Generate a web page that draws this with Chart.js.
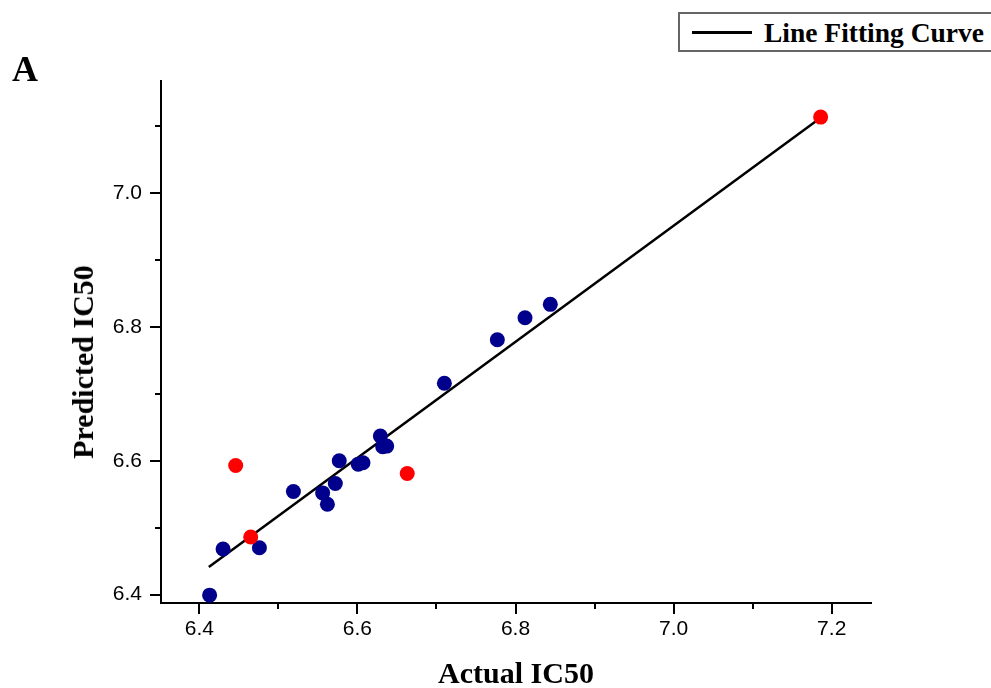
<!DOCTYPE html>
<html>
<head>
<meta charset="utf-8">
<script src="https://cdn.jsdelivr.net/npm/chart.js@4/dist/chart.umd.min.js"></script>
<style>
  body { margin: 0; background: #fff; }
  #wrap { position: relative; width: 991px; height: 688px; overflow: hidden; }
  .txt { position: absolute; font-family: "Liberation Serif", "Times New Roman", serif; font-weight: bold; color: #000; white-space: nowrap; }
  #panel { left: 12px; top: 51px; font-size: 36px; line-height: 36px; }
  #ytitle { left: 83px; top: 362px; font-size: 30px; line-height: 30px; transform: translate(-50%, -50%) rotate(-90deg); }
  #legend { position: absolute; left: 678px; top: 12px; width: 330px; height: 36px; border: 2px solid #666; background: #fff; }
  #legend .sample { position: absolute; left: 12px; top: 17px; width: 60px; height: 3px; background: #000; }
  #legend .txt { left: 84px; top: 5px; font-size: 27.5px; line-height: 27.5px; }
</style>
</head>
<body>
<div id="wrap">
  <canvas id="grafico"></canvas>
  <div class="txt" id="panel">A</div>
  <div class="txt" id="ytitle">Predicted IC50</div>
  <div id="legend"><div class="sample"></div><div class="txt">Line Fitting Curve</div></div>
</div>
<script>
// ===== 1. Dados =====
// pontos azuis (treino)
const azulX = [6.413, 6.430, 6.476, 6.519, 6.556, 6.562, 6.572, 6.577, 6.601, 6.607, 6.629, 6.632, 6.637, 6.710, 6.777, 6.812, 6.844];
const azulY = [6.399, 6.468, 6.470, 6.554, 6.552, 6.535, 6.566, 6.600, 6.595, 6.597, 6.637, 6.621, 6.622, 6.716, 6.781, 6.814, 6.834];

// pontos vermelhos (teste)
const vermelhoX = [6.446, 6.465, 6.663, 7.186];
const vermelhoY = [6.593, 6.486, 6.581, 7.114];

// reta ajustada
const retaX = [6.412, 7.186];
const retaY = [6.441, 7.113];

// ticks
const ticksX = [6.4, 6.6, 6.8, 7.0, 7.2];
const ticksY = [6.4, 6.6, 6.8, 7.0];
const minorX = [6.5, 6.7, 6.9, 7.1];
const minorY = [6.5, 6.7, 6.9, 7.1];

const pares = (xs, ys) => xs.map((x, i) => ({ x: x, y: ys[i] }));


// ===== 2. Plugin para os tracinhos (maiores e menores) =====
const tracinhos = {
  id: 'tracinhos',
  afterDraw(chart) {
    const { ctx, scales: { x, y } } = chart;
    const base = y.right;
    const chao = x.top;
    ctx.save();
    ctx.strokeStyle = '#000';
    ctx.lineWidth = 2;
    ctx.beginPath();
    ticksX.forEach(v => { const p = Math.round(x.getPixelForValue(v)); ctx.moveTo(p, chao); ctx.lineTo(p, chao + 11); });
    minorX.forEach(v => { const p = Math.round(x.getPixelForValue(v)); ctx.moveTo(p, chao); ctx.lineTo(p, chao + 6); });
    ticksY.forEach(v => { const p = Math.round(y.getPixelForValue(v)); ctx.moveTo(base, p); ctx.lineTo(base - 11, p); });
    minorY.forEach(v => { const p = Math.round(y.getPixelForValue(v)); ctx.moveTo(base, p); ctx.lineTo(base - 6, p); });
    ctx.stroke();
    ctx.restore();
  }
};


// ===== 3. Gráfico =====
const fonteTick = { family: '"Liberation Sans", Arial, sans-serif', size: 21 };

new Chart(document.getElementById('grafico'), {
  type: 'scatter',
  data: {
    datasets: [
      {
        data: pares(vermelhoX, vermelhoY),
        backgroundColor: '#ff0000',
        borderWidth: 0,
        pointRadius: 7.5,
        pointHoverRadius: 7.5
      },
      {
        data: pares(azulX, azulY),
        backgroundColor: '#00008c',
        borderWidth: 0,
        pointRadius: 7.5,
        pointHoverRadius: 7.5
      },
      {
        data: pares(retaX, retaY),
        showLine: true,
        borderColor: '#000',
        borderWidth: 2.5,
        pointRadius: 0,
        fill: false
      }
    ]
  },
  options: {
    responsive: true,
    maintainAspectRatio: false,
    animation: false,
    layout: { padding: { top: 81, right: 120, left: 0, bottom: 0 } },
    plugins: {
      legend: { display: false },
      tooltip: { enabled: false }
    },
    scales: {
      x: {
        type: 'linear',
        min: 6.3515,
        max: 7.2497,
        afterFit: s => { s.height = 85; },
        afterBuildTicks: s => { s.ticks = ticksX.map(v => ({ value: v })); },
        grid: { display: false, drawTicks: false },
        border: { display: true, color: '#000', width: 2 },
        ticks: {
          color: '#000',
          font: fonteTick,
          padding: 14,
          maxRotation: 0,
          callback: v => v.toFixed(1)
        },
        title: {
          display: true,
          text: 'Actual IC50',
          color: '#000',
          font: { family: '"Liberation Serif", "Times New Roman", serif', size: 30, weight: 'bold', lineHeight: 0.8 },
          padding: { top: 0, bottom: 1 }
        }
      },
      y: {
        type: 'linear',
        min: 6.3873,
        max: 7.168,
        afterFit: s => { s.width = 161; },
        afterBuildTicks: s => { s.ticks = ticksY.map(v => ({ value: v })); },
        grid: { display: false, drawTicks: false },
        border: { display: true, color: '#000', width: 2 },
        ticks: {
          color: '#000',
          font: fonteTick,
          padding: 19,
          callback: v => v.toFixed(1)
        }
      }
    }
  },
  plugins: [tracinhos]
});
</script>
</body>
</html>
